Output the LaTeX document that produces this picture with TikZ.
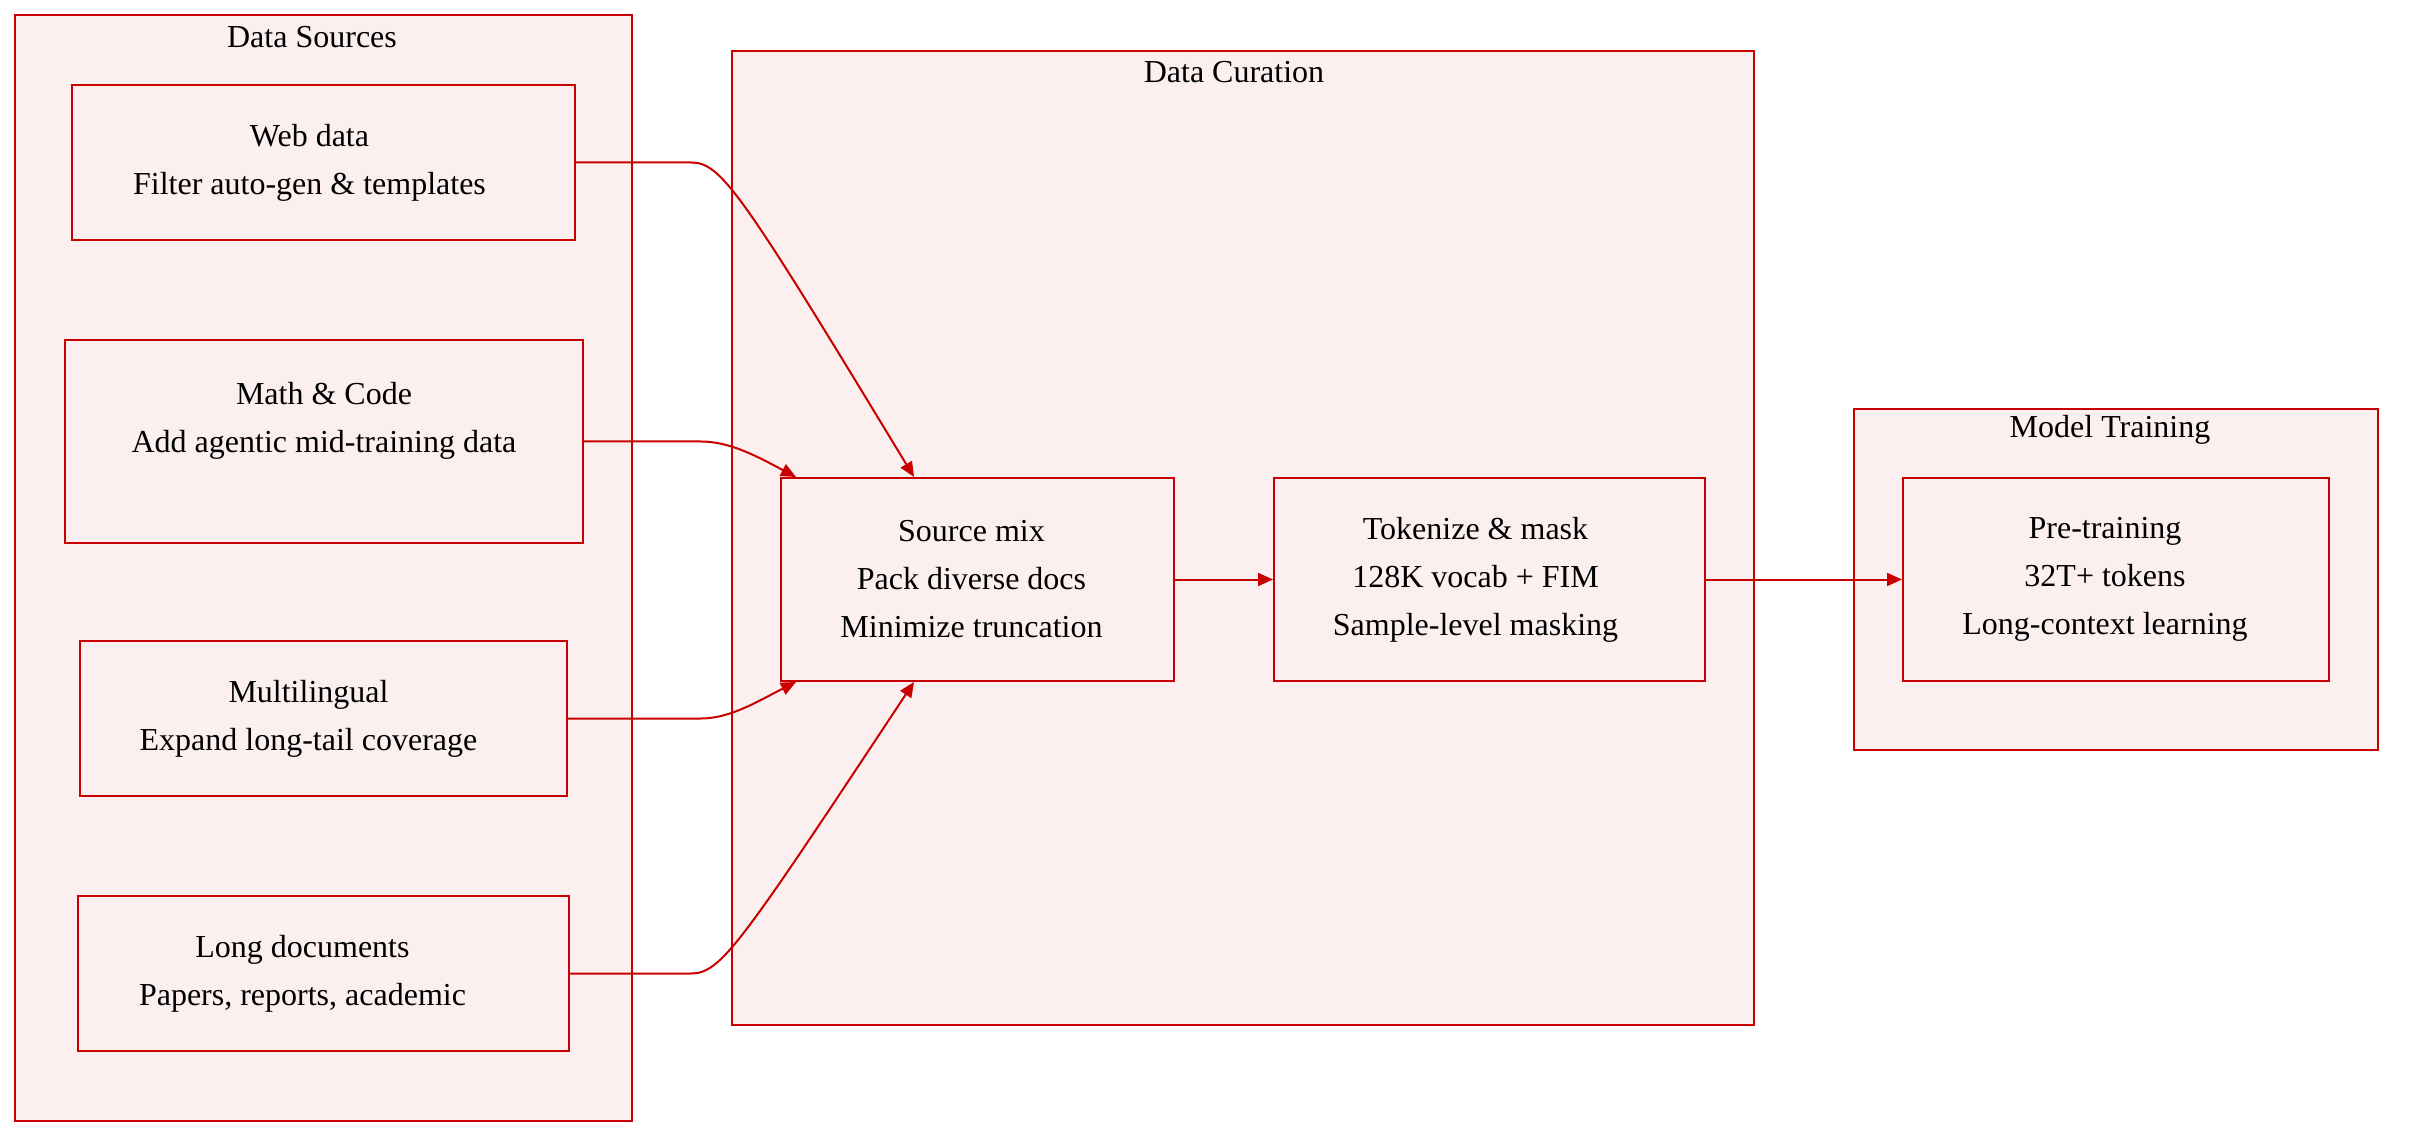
\documentclass[tikz,border=0pt]{standalone}
\usepackage{fontspec}
\setmainfont{Liberation Serif}
\usepackage{tikz}
\usetikzlibrary{arrows.meta, positioning}
\usepackage{xcolor}
\definecolor{edgered}{RGB}{200,0,0}
\definecolor{boxfill}{RGB}{252,239,239}

\begin{document}
\begin{tikzpicture}[x=0.5pt,y=-0.5pt,>={Triangle[length=7.5pt,width=6.5pt]}]
  \tikzstyle{cluster}=[draw=edgered,fill=boxfill,line width=1pt,inner sep=0pt]
  \tikzstyle{box}=[draw=edgered,fill=boxfill,line width=1pt]
  \tikzstyle{txt}=[align=center,font=\fontsize{16}{24}\selectfont]
  \tikzstyle{title}=[font=\fontsize{16}{19}\selectfont,inner sep=0pt]
  \tikzstyle{flow}=[->,draw=edgered,line width=1pt]

  \useasboundingbox (0,0) rectangle (2410,1144);

  % clusters
  \node[cluster,minimum width=308.5pt,minimum height=553pt] (sources)  at (323.5,568)  {};
  \node[cluster,minimum width=511pt,minimum height=487pt]   (curation) at (1243,538)   {};
  \node[cluster,minimum width=262pt,minimum height=170.5pt] (training) at (2116,579.5) {};

  \node[title] (t_sources)  at (312,37)   {Data Sources};
  \node[title] (t_curation) at (1234,72)  {Data Curation};
  \node[title] (t_training) at (2110,430) {Model Training};

  % sources
  \node[box,minimum width=251.5pt,minimum height=77.5pt,
        label={[txt,xshift=-7pt]center:Web data\\Filter auto-gen \& templates}]  (web)     at (323.5,162.5) {};
  \node[box,minimum width=259pt,minimum height=101.5pt,
        label={[txt]center:Math \& Code\\Add agentic mid-training data\\\mbox{}}]  (mathc)   at (324,441.5)   {};
  \node[box,minimum width=243.5pt,minimum height=77.5pt,
        label={[txt,xshift=-7.5pt]center:Multilingual\\Expand long-tail coverage}]  (multi)   at (323.5,718.5) {};
  \node[box,minimum width=245.5pt,minimum height=77.5pt,
        label={[txt,xshift=-10.5pt]center:Long documents\\Papers, reports, academic}]  (longdoc) at (323.5,973.5) {};

  % curation and training
  \node[box,minimum width=196.5pt,minimum height=101.5pt,
        label={[txt,xshift=-3pt]center:Source mix\\Pack diverse docs\\Minimize truncation}]  (mix)      at (977.5,579.5)  {};
  \node[box,minimum width=215.5pt,minimum height=101.5pt,
        label={[txt,xshift=-7pt]center:Tokenize \& mask\\128K vocab + FIM\\Sample-level masking}]  (tok)      at (1489.5,579.5) {};
  \node[box,minimum width=213pt,minimum height=101.5pt,
        label={[txt,xshift=-5.5pt]center:Pre-training\\32T+ tokens\\Long-context learning}]  (pretrain) at (2116,579.5)   {};

  \coordinate (mix_top) at ([xshift=67pt]mix.north west);
  \coordinate (mix_bot) at ([xshift=67pt]mix.south west);

  \draw[flow] (web.east) -- ++(115,0) .. controls +(30,0) and (740,190) .. (mix_top);
  \draw[flow] (mathc.east) -- ++(117,0) .. controls +(30,0) and (760,458) .. ([xshift=8pt]mix.north west);
  \draw[flow] (multi.east) -- ++(133,0) .. controls +(30,0) and (760,700) .. ([xshift=8pt]mix.south west);
  \draw[flow] (longdoc.east) -- ++(121,0) .. controls +(30,0) and (740,945) .. (mix_bot);
  \draw[flow] (mix) -- (tok);
  \draw[flow] (tok) -- (pretrain);
\end{tikzpicture}
\end{document}
